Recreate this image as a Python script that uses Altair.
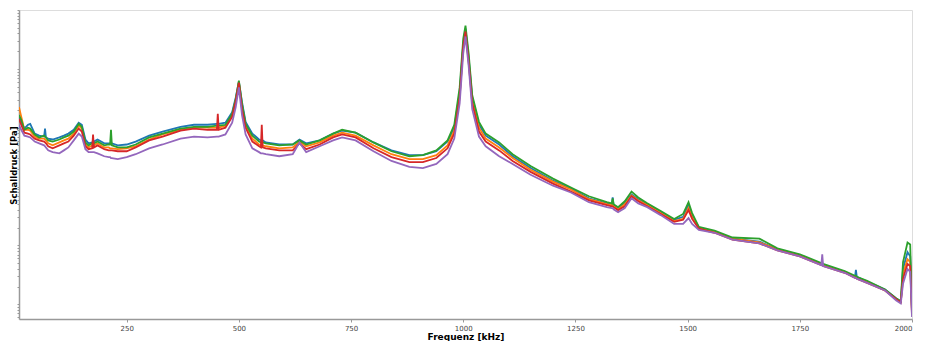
import altair as alt
import pandas as pd

# Frequency grid (kHz)
freq = [10, 15, 22, 30, 35, 45, 55, 66, 68, 70, 75, 85, 100, 110, 120, 132, 143, 150, 158, 165,
        173, 175, 177, 185, 200, 210, 213, 215, 217, 230, 250, 270, 300, 330, 370, 400, 430, 451, 453, 455,
        470, 485, 493, 500, 507, 515, 530, 545, 549, 551, 553, 560, 590, 620, 635, 650, 680, 710, 730, 760,
        800, 840, 880, 910, 940, 965, 980, 992, 1000, 1005, 1012, 1020, 1035, 1050, 1080, 1110, 1150, 1200, 1240, 1280,
        1320, 1331, 1333, 1335, 1345, 1360, 1375, 1390, 1410, 1440, 1470, 1490, 1502, 1510, 1525, 1560, 1600, 1660, 1700, 1750,
        1798, 1800, 1802, 1850, 1873, 1875, 1877, 1900, 1940, 1965, 1975, 1980, 1990, 1996, 2000]

# Sound pressure levels (dB, 105 dB = top of the axis)
blue = [68.7, 67.0, 64.7, 66.0, 66.3, 63.0, 62.3, 62.0, 64.7, 61.7, 61.3, 61.0, 61.7, 62.3, 63.0, 64.3, 66.7, 66.0, 61.0, 59.7,
        60.0, 60.3, 60.3, 61.0, 59.7, 59.7, 59.7, 59.7, 59.7, 59.0, 59.3, 60.3, 62.3, 63.7, 65.3, 66.0, 66.0, 66.3, 66.3, 66.3,
        66.7, 70.3, 75.3, 80.7, 73.7, 67.0, 63.0, 61.0, 60.7, 60.7, 60.7, 60.0, 59.3, 59.3, 61.0, 59.7, 60.7, 63.0, 64.0, 63.3,
        60.0, 57.3, 55.7, 55.7, 57.0, 60.3, 65.0, 77.0, 93.7, 98.7, 88.7, 75.3, 66.0, 62.3, 59.3, 55.3, 51.3, 47.0, 44.3, 41.0,
        39.3, 39.0, 41.3, 38.7, 37.7, 39.3, 42.3, 40.7, 39.0, 36.3, 33.7, 34.7, 38.7, 35.3, 31.0, 29.7, 27.3, 26.3, 23.7, 21.7,
        18.7, 18.7, 18.3, 16.0, 14.3, 16.7, 14.3, 12.7, 10.0, 7.0, 6.0, 17.0, 22.7, 21.3, 2.7]
orange = [72.0, 68.7, 64.3, 64.3, 64.0, 62.0, 61.3, 61.3, 61.0, 60.7, 59.7, 59.0, 60.0, 60.7, 61.3, 63.0, 65.7, 64.7, 59.3, 58.3,
          59.0, 59.0, 59.0, 59.7, 58.3, 58.3, 58.0, 58.0, 58.0, 57.7, 58.0, 58.7, 61.0, 62.7, 64.3, 65.0, 65.0, 65.0, 65.0, 65.0,
          65.7, 69.3, 74.3, 80.3, 72.0, 65.7, 61.3, 59.3, 59.0, 59.0, 59.0, 58.7, 58.0, 58.3, 60.3, 58.7, 60.0, 62.3, 63.3, 62.3,
          59.0, 56.0, 54.3, 54.3, 55.7, 59.0, 64.0, 76.0, 92.7, 98.0, 88.0, 74.3, 65.0, 61.3, 58.3, 54.7, 50.7, 46.7, 44.0, 40.7,
          39.0, 38.7, 38.7, 38.3, 37.3, 39.0, 42.0, 40.3, 38.7, 36.0, 33.3, 34.0, 37.7, 34.7, 31.0, 29.7, 27.3, 26.0, 23.7, 21.7,
          18.7, 18.7, 18.3, 16.0, 14.3, 14.3, 14.0, 12.7, 9.7, 6.7, 5.7, 15.3, 20.3, 19.3, 2.0]
green = [69.3, 67.7, 64.3, 65.0, 64.7, 62.7, 61.7, 62.3, 62.0, 61.7, 60.7, 60.3, 61.0, 61.7, 62.3, 63.7, 66.3, 65.3, 60.0, 59.0,
         59.7, 59.7, 59.7, 60.3, 59.0, 59.3, 59.3, 64.3, 59.0, 58.3, 58.3, 59.3, 61.7, 63.0, 64.7, 65.3, 65.3, 65.7, 65.7, 65.7,
         66.0, 69.7, 74.7, 81.0, 73.0, 66.3, 62.3, 60.3, 60.0, 60.0, 60.0, 59.7, 59.0, 59.3, 60.7, 59.3, 60.7, 63.0, 64.3, 63.3,
         60.0, 57.0, 55.3, 55.7, 57.3, 60.7, 66.0, 78.7, 95.3, 99.7, 90.3, 76.0, 67.0, 63.0, 60.0, 56.0, 52.0, 47.7, 44.7, 41.7,
         39.7, 39.3, 41.0, 39.0, 38.0, 40.0, 43.3, 41.3, 39.3, 36.7, 34.0, 35.7, 39.7, 36.0, 31.3, 30.0, 27.7, 27.3, 24.0, 22.0,
         19.0, 19.0, 18.7, 16.3, 14.7, 14.7, 14.3, 13.0, 10.0, 7.0, 6.0, 19.3, 26.0, 25.3, 3.7]
red = [68.0, 66.0, 63.3, 63.0, 62.7, 61.3, 60.7, 60.3, 60.0, 59.7, 58.7, 58.0, 59.0, 59.7, 60.3, 62.3, 64.7, 63.7, 58.7, 57.7,
       58.0, 62.7, 58.3, 59.0, 57.7, 57.3, 57.3, 57.3, 57.3, 57.0, 57.0, 58.3, 60.7, 62.0, 64.0, 64.7, 64.3, 64.3, 69.7, 64.3,
       65.0, 68.7, 74.0, 80.3, 71.3, 65.0, 60.3, 58.7, 58.3, 66.0, 58.3, 58.0, 57.3, 57.3, 59.7, 57.7, 59.3, 61.7, 62.7, 61.7,
       58.0, 55.0, 53.3, 53.3, 54.7, 58.0, 63.0, 75.3, 92.7, 97.7, 87.3, 73.3, 63.7, 60.3, 57.3, 53.7, 50.0, 46.0, 43.3, 40.3,
       38.7, 38.3, 38.3, 38.0, 37.0, 38.3, 41.7, 40.0, 38.3, 35.7, 33.0, 33.7, 37.0, 34.0, 30.7, 29.3, 27.0, 25.7, 23.3, 21.3,
       18.3, 18.3, 18.0, 15.7, 14.0, 14.0, 13.7, 12.3, 9.7, 6.7, 5.7, 13.7, 18.7, 18.0, 1.3]
purple = [66.0, 64.3, 62.3, 62.0, 61.7, 60.3, 59.7, 59.0, 58.7, 58.3, 57.3, 56.7, 56.3, 57.3, 58.3, 60.7, 63.0, 62.0, 57.7, 56.7,
          56.7, 56.7, 56.7, 56.3, 55.3, 55.0, 55.0, 54.7, 54.7, 54.3, 55.0, 56.0, 58.0, 59.3, 61.3, 62.0, 61.7, 62.0, 62.0, 62.0,
          62.7, 66.7, 72.0, 78.7, 69.3, 62.7, 58.0, 56.7, 56.3, 56.3, 56.3, 56.0, 55.3, 56.0, 60.0, 56.7, 58.7, 60.7, 61.7, 60.7,
          57.0, 53.7, 51.7, 51.3, 52.7, 56.0, 61.3, 73.3, 90.3, 96.0, 86.0, 71.3, 62.0, 58.7, 55.3, 52.7, 49.0, 45.3, 43.0, 39.7,
          38.0, 37.7, 37.7, 37.3, 36.3, 37.7, 41.0, 39.3, 38.0, 35.3, 32.3, 32.3, 34.3, 32.3, 30.3, 29.3, 27.0, 25.7, 23.3, 21.3,
          18.3, 22.0, 18.0, 15.7, 14.0, 14.0, 13.7, 12.3, 9.7, 6.3, 5.3, 12.0, 17.0, 16.0, 0.7]

series_names = ["Messung 1", "Messung 2", "Messung 3", "Messung 4", "Messung 5"]
series_values = [blue, orange, green, red, purple]
series_colors = ["#1f77b4", "#ff7f0e", "#2ca02c", "#d62728", "#9467bd"]
x_ticks = [250, 500, 750, 1000, 1250, 1500, 1750, 2000]

rows = []
for name, vals in zip(series_names, series_values):
    for f, v in zip(freq, vals):
        rows.append({"Frequenz": f, "Pegel": v, "Serie": name})
df = pd.DataFrame(rows)

chart = alt.Chart(df).transform_calculate(
    Schalldruck="pow(10, (datum.Pegel - 105) / 20)"
).mark_line(strokeWidth=1.8, clip=True).encode(
    x=alt.X("Frequenz:Q",
            scale=alt.Scale(domain=[10, 2000], nice=False, zero=False),
            axis=alt.Axis(values=x_ticks, format="d", title="Frequenz [kHz]", grid=False,
                          labelFontSize=7, labelColor="#444", labelFont="DejaVu Sans",
                          tickSize=3, tickColor="#999", domainColor="#999", domainWidth=1.5,
                          labelPadding=2, titleFont="DejaVu Sans", titleFontSize=9,
                          titleFontWeight="bold", titleColor="#000", titleY=17, titleBaseline="middle")),
    y=alt.Y("Schalldruck:Q",
            scale=alt.Scale(type="log", domain=[10 ** -5.25, 1], nice=False),
            axis=alt.Axis(labels=False, tickCount=60, grid=False, title="Schalldruck [Pa]",
                          tickSize=2, tickColor="#999", domainColor="#999", domainWidth=1.5,
                          titleFont="DejaVu Sans", titleFontSize=8.5, titleFontWeight="bold",
                          titleColor="#000", titleX=-6, titleY=155, titleBaseline="middle")),
    color=alt.Color("Serie:N", scale=alt.Scale(domain=series_names, range=series_colors), legend=None),
).properties(
    width=893,
    height=309,
    autosize=alt.AutoSizeParams(type="none"),
    padding={"left": 11, "top": 2, "right": 10, "bottom": 22},
).configure_view(
    stroke="#999", strokeWidth=1.5
).configure(background="white")

chart.save("out.html", embed_options={"renderer": "svg", "actions": False})
